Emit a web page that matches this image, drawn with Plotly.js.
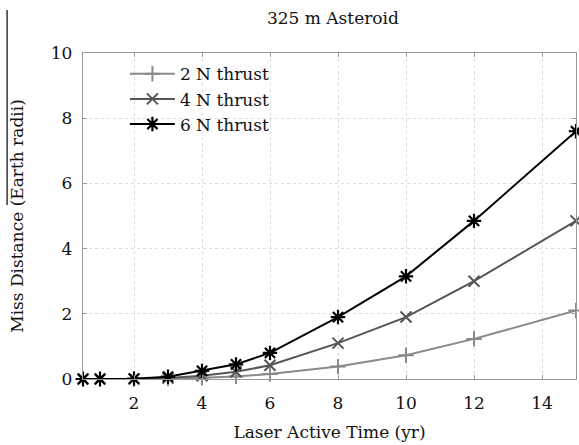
<!DOCTYPE html>
<html>
<head>
<meta charset="utf-8">
<script src="https://cdn.plot.ly/plotly-3.0.1.min.js"></script>
<style>html,body{margin:0;padding:0;background:#fff;}#chart{width:579px;height:445px;}</style>
</head>
<body>
<div id="chart"></div>
<script>
const timeYr = [0.5, 1, 2, 3, 4, 5, 6, 8, 10, 12, 15];
const thrust2N = [0, 0, 0, 0.01, 0.04, 0.08, 0.15, 0.38, 0.73, 1.23, 2.1];
const thrust4N = [0, 0, 0, 0.03, 0.1, 0.22, 0.42, 1.1, 1.9, 3.0, 4.85];
const thrust6N = [0, 0, 0.01, 0.07, 0.25, 0.45, 0.8, 1.9, 3.15, 4.85, 7.6];
const seriesNames = ['2 N thrust', '4 N thrust', '6 N thrust'];
const xTicks = [2, 4, 6, 8, 10, 12, 14];
const yTicks = [0, 2, 4, 6, 8, 10];

const serif = '"DejaVu Serif", "Liberation Serif", serif';
const traces = [
  {x: timeYr, y: thrust2N, name: seriesNames[0], mode: 'lines+markers', cliponaxis: false,
   line: {color: '#8a8a8a', width: 2}, marker: {symbol: 'cross-thin-open', size: 11, color: '#8a8a8a', line: {color: '#8a8a8a', width: 2}}},
  {x: timeYr, y: thrust4N, name: seriesNames[1], mode: 'lines+markers', cliponaxis: false,
   line: {color: '#555555', width: 2}, marker: {symbol: 'x-thin-open', size: 11, color: '#555555', line: {color: '#555555', width: 2}}},
  {x: timeYr, y: thrust6N, name: seriesNames[2], mode: 'lines+markers', cliponaxis: false,
   line: {color: '#000000', width: 2}, marker: {symbol: 'asterisk-open', size: 12, color: '#000000', line: {color: '#000000', width: 2.2}}}
];

const axisCommon = {
  showline: true, mirror: 'ticks', linecolor: '#9a9a9a', linewidth: 1.2,
  ticks: 'inside', ticklen: 4, tickcolor: '#9a9a9a',
  showgrid: true, gridcolor: '#dcdcdc', griddash: 'dot', gridwidth: 1,
  zeroline: false, tickfont: {family: serif, size: 17, color: '#111'}
};

const layout = {
  width: 579, height: 445,
  margin: {l: 83, r: 3, t: 53, b: 66},
  paper_bgcolor: '#fff', plot_bgcolor: '#fff',
  title: {text: '325 m Asteroid', font: {family: serif, size: 17, color: '#111'}, x: 0.575, xanchor: 'center', y: 0.96, yanchor: 'middle'},
  xaxis: Object.assign({}, axisCommon, {range: [0.5, 15], tickvals: xTicks, ticktext: xTicks.map(String), ticklabelstandoff: 8,
    title: {text: 'Laser Active Time (yr)', font: {family: serif, size: 17, color: '#111'}, standoff: 14}}),
  yaxis: Object.assign({}, axisCommon, {range: [0, 10], tickvals: yTicks, ticktext: yTicks.map(String), ticklabelstandoff: 6,
    title: {text: 'Miss Distance (Earth radii)', font: {family: serif, size: 17, color: '#111'}, standoff: 22}}),
  legend: {x: 0.085, y: 0.99, xanchor: 'left', yanchor: 'top', bgcolor: 'rgba(0,0,0,0)',
    font: {family: serif, size: 17, color: '#111'}, tracegroupgap: 0, itemwidth: 45},
  shapes: [{type: 'line', xref: 'paper', yref: 'paper', x0: -0.154, x1: -0.154, y0: 1.132, y1: 0.534,
    line: {color: '#000', width: 1.2}}]
};

Plotly.newPlot('chart', traces, layout, {staticPlot: true, displayModeBar: false});
</script>
</body>
</html>
